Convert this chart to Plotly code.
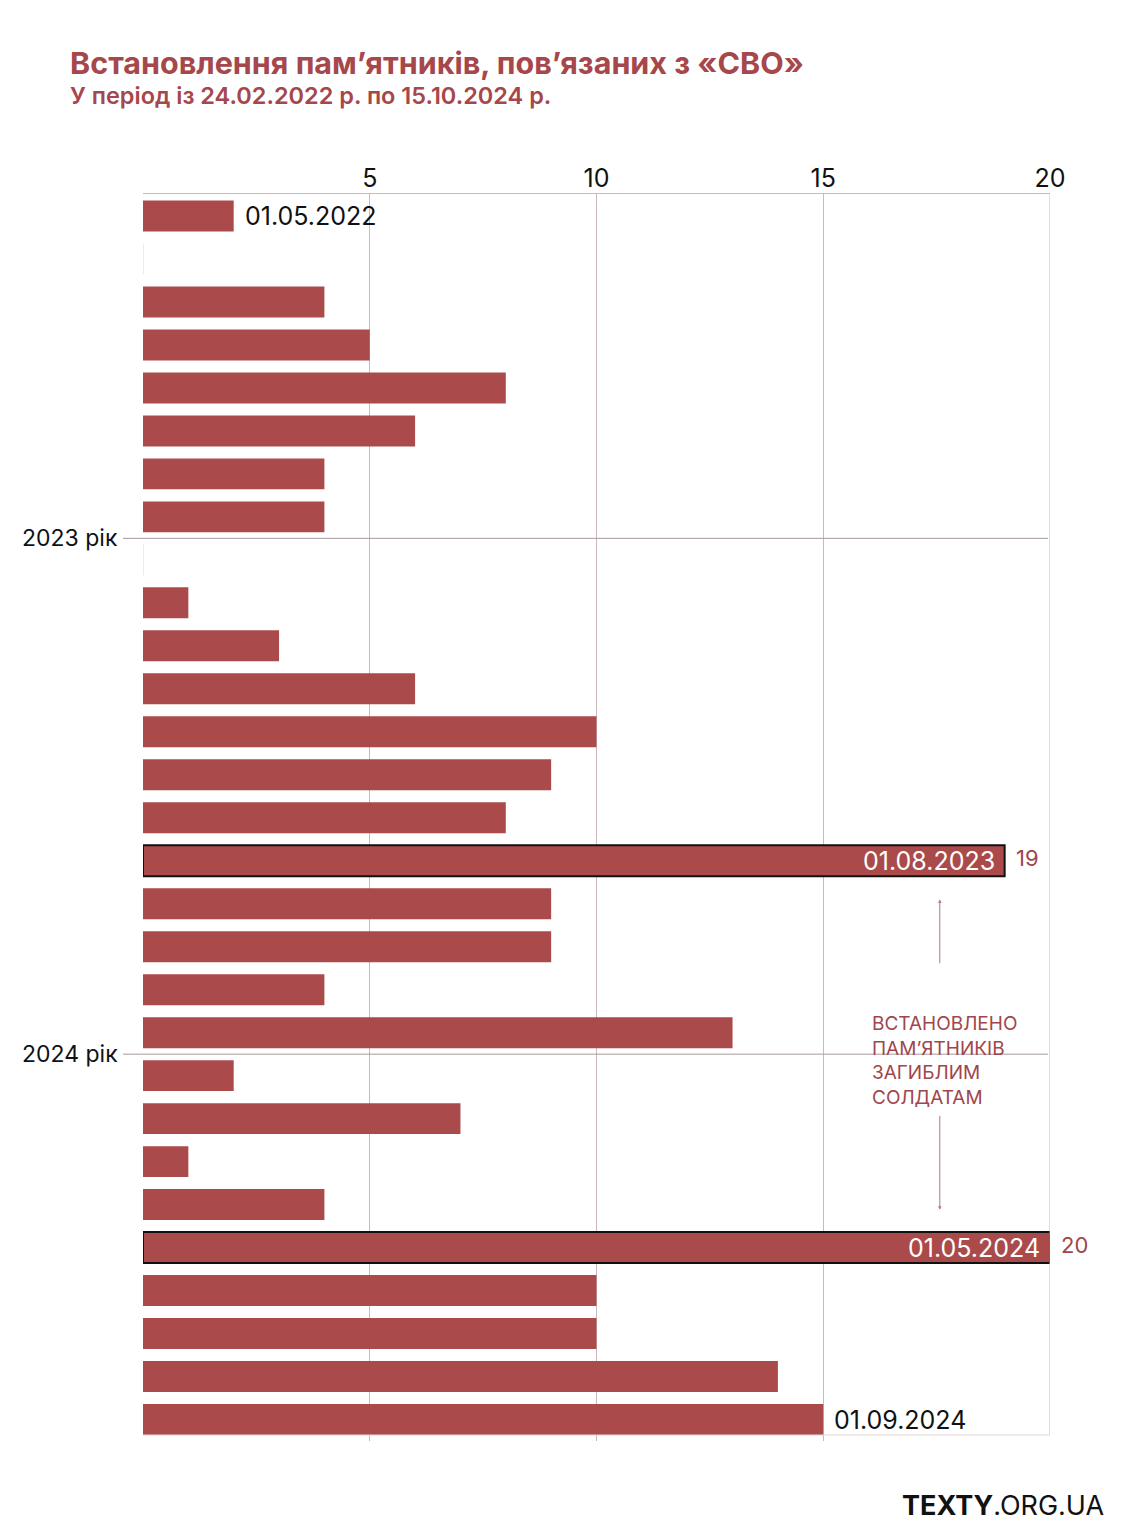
import plotly.graph_objects as go

# ---- data ----
months = ["2022-05", "2022-06", "2022-07", "2022-08", "2022-09", "2022-10", "2022-11", "2022-12",
          "2023-01", "2023-02", "2023-03", "2023-04", "2023-05", "2023-06", "2023-07", "2023-08",
          "2023-09", "2023-10", "2023-11", "2023-12",
          "2024-01", "2024-02", "2024-03", "2024-04", "2024-05", "2024-06", "2024-07", "2024-08", "2024-09"]
counts = [2, 0, 4, 5, 8, 6, 4, 4,
          0, 1, 3, 6, 10, 9, 8, 19, 9, 9, 4, 13,
          2, 7, 1, 4, 20, 10, 10, 14, 15]
highlight_months = ["2023-08", "2024-05"]
outside_label_months = ["2022-05", "2024-09"]
year_starts = ["2023-01", "2024-01"]
year_labels = ["2023 рік", "2024 рік"]
x_ticks = [5, 10, 15, 20]

title = "Встановлення пам’ятників, пов’язаних з «СВО»"
subtitle = "У період із 24.02.2022 р. по 15.10.2024 р."
note = "ВСТАНОВЛЕНО<br>ПАМ’ЯТНИКІВ<br>ЗАГИБЛИМ<br>СОЛДАТАМ"

BAR = "#ab4a4a"
RED = "#a6474b"
GRID = "#cbb8bc"
FONT = "Inter"

def date_label(m):
    y, mo = m.split("-")
    return f"01.{mo}.{y}"

W, H = 1125, 1538
L, R, T, B = 143, 75, 194, 97
PW, PH = W - L - R, H - T - B
BW = 0.72
last = len(months) - 1

fig = go.Figure()
fig.add_trace(go.Bar(
    y=months, x=counts, orientation="h",
    width=BW,
    marker=dict(
        color=BAR,
        line=dict(color=["#111111" if m in highlight_months else BAR for m in months],
                  width=[2 if m in highlight_months else 0 for m in months]),
    ),
    hoverinfo="skip",
))

shapes = []
annotations = []

# zero stubs
for i, (m, v) in enumerate(zip(months, counts)):
    if v == 0:
        shapes.append(dict(type="line", xref="x", yref="y", x0=0, x1=0, y0=i - BW / 2, y1=i + BW / 2,
                           line=dict(color="#d9d9d9", width=1)))

# right border & bottom border
shapes.append(dict(type="line", xref="x", yref="y", x0=20, x1=20, y0=-0.5, y1=last + BW / 2,
                   line=dict(color=GRID, width=1)))
shapes.append(dict(type="line", xref="paper", yref="y", x0=0, x1=1, y0=last + BW / 2, y1=last + BW / 2,
                   line=dict(color="#e2d3d6", width=1)))

# year separators
for ys, yl in zip(year_starts, year_labels):
    yi = months.index(ys) - 0.5
    shapes.append(dict(type="line", xref="paper", yref="y", x0=-20 / PW, x1=0.998, y0=yi, y1=yi,
                       line=dict(color="#a89a9c", width=1)))
    annotations.append(dict(xref="paper", yref="y", x=-23 / PW, y=yi, text=yl, showarrow=False,
                            xanchor="right", yanchor="middle",
                            font=dict(family=FONT, size=23, color="#111111")))

# labels
for i, (m, v) in enumerate(zip(months, counts)):
    if m in outside_label_months:
        annotations.append(dict(xref="x", yref="y", x=v, y=i, text=date_label(m), showarrow=False,
                                xanchor="left", xshift=9, yanchor="middle",
                                font=dict(family=FONT, size=25, color="#111111")))
    if m in highlight_months:
        annotations.append(dict(xref="x", yref="y", x=v, y=i, text=date_label(m), showarrow=False,
                                xanchor="right", xshift=-8, yanchor="middle",
                                font=dict(family=FONT, size=25, color="#ffffff")))
        annotations.append(dict(xref="x", yref="y", x=v, y=i, text=str(v), showarrow=False,
                                xanchor="left", xshift=9, yanchor="middle", yshift=3,
                                font=dict(family=FONT, size=22, color="#a0464c")))

# note with arrows
i1 = months.index(highlight_months[0])
i2 = months.index(highlight_months[1])
annotations.append(dict(xref="x", yref="y", x=16.03, y=(i1 + i2) / 2 + 0.15, text=note, showarrow=False,
                        xanchor="left", yanchor="middle", align="left",
                        font=dict(family=FONT, size=19, color="#a0464c")))
annotations.append(dict(xref="x", yref="y", axref="x", ayref="y", x=17.57, y=i1 + 0.9,
                        ax=17.57, ay=i1 + 2.42, text="", showarrow=True, arrowhead=2,
                        arrowsize=0.7, arrowwidth=1, arrowcolor="#b07a80"))
annotations.append(dict(xref="x", yref="y", axref="x", ayref="y", x=17.57, y=i2 - 0.88,
                        ax=17.57, ay=i2 - 3.1, text="", showarrow=True, arrowhead=2,
                        arrowsize=0.7, arrowwidth=1, arrowcolor="#b07a80"))

# titles & logo
annotations.append(dict(xref="paper", yref="paper", x=-75 / PW, y=1 + (T - 62) / PH, text=title,
                        showarrow=False, xanchor="left", yanchor="middle",
                        font=dict(family=FONT, size=30.5, color=RED, weight=700)))
annotations.append(dict(xref="paper", yref="paper", x=-75 / PW, y=1 + (T - 95) / PH, text=subtitle,
                        showarrow=False, xanchor="left", yanchor="middle",
                        font=dict(family=FONT, size=23.5, color=RED, weight=600)))
annotations.append(dict(xref="paper", yref="paper", x=(1106 - L) / PW, y=-(1505 - (T + PH)) / PH,
                        text="<b>TEXTY</b>.ORG.UA", showarrow=False, xanchor="right", yanchor="middle",
                        font=dict(family=FONT, size=27, color="#111111")))

fig.update_layout(
    width=W, height=H,
    margin=dict(l=L, r=R, t=T, b=B, pad=0),
    paper_bgcolor="white", plot_bgcolor="white",
    showlegend=False,
    font=dict(family=FONT, color="#111111"),
    shapes=shapes, annotations=annotations,
    xaxis=dict(side="top", range=[0, 20], tickvals=x_ticks, ticktext=[str(t) for t in x_ticks],
               showgrid=True, gridcolor=GRID, gridwidth=1, zeroline=False,
               showline=True, linecolor=GRID, linewidth=1, ticks="",
               ticklabelstandoff=-4,
               tickfont=dict(family=FONT, size=25, color="#111111")),
    yaxis=dict(type="category", categoryorder="array", categoryarray=months, autorange="reversed",
               showticklabels=False, showgrid=False, zeroline=False, showline=False, ticks=""),
)

fig.write_html("out.html")
